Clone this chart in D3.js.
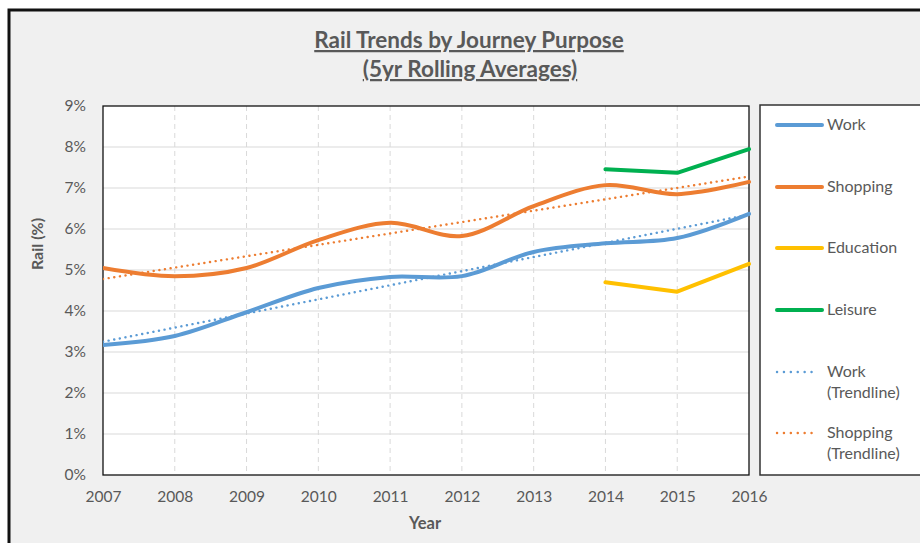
<!DOCTYPE html>
<html>
<head>
<meta charset="utf-8">
<script src="https://cdn.jsdelivr.net/npm/d3@7/dist/d3.min.js"></script>
<style>
  body { margin: 0; background: #fff; }
  svg { display: block; font-family: Lato, "Open Sans", sans-serif; }
</style>
</head>
<body>
<svg id="viz" width="920" height="543"></svg>
<script>
// data
const years = [2007, 2008, 2009, 2010, 2011, 2012, 2013, 2014, 2015, 2016];
const work = [3.17, 3.39, 3.97, 4.56, 4.83, 4.85, 5.44, 5.65, 5.78, 6.37];
const shopping = [5.05, 4.85, 5.05, 5.73, 6.15, 5.83, 6.56, 7.07, 6.85, 7.15];
const educationYears = [2014, 2015, 2016];
const education = [4.70, 4.47, 5.15];
const leisureYears = [2014, 2015, 2016];
const leisure = [7.46, 7.37, 7.95];
const trendYears = [2007, 2016];
const workTrend = [3.25, 6.35];
const shoppingTrend = [4.78, 7.28];
const yTicks = [0, 1, 2, 3, 4, 5, 6, 7, 8, 9];

const C = { work: "#5B9BD5", shopping: "#ED7D31", education: "#FFC000", leisure: "#00B050" };
const TXT = "#595959";

const PLOT = { left: 103, right: 749, top: 106, bottom: 475 };

const svg = d3.select("#viz");

// background + frame
svg.append("rect").attr("width", 920).attr("height", 543).attr("fill", "#fff");
svg.append("rect").attr("x", 9).attr("y", 10).attr("width", 930).attr("height", 560)
  .attr("fill", "#f0f0f0").attr("stroke", "#111").attr("stroke-width", 3);

const x = d3.scaleLinear().domain([2007, 2016]).range([PLOT.left, PLOT.right]);
const y = d3.scaleLinear().domain([0, 9]).range([PLOT.bottom, PLOT.top]);

// plot area
svg.append("rect")
  .attr("x", PLOT.left).attr("y", PLOT.top)
  .attr("width", PLOT.right - PLOT.left).attr("height", PLOT.bottom - PLOT.top)
  .attr("fill", "#fff");

// horizontal grid
svg.append("g")
  .selectAll("line").data(yTicks.slice(1, -1)).join("line")
  .attr("x1", PLOT.left).attr("x2", PLOT.right)
  .attr("y1", d => y(d)).attr("y2", d => y(d))
  .attr("stroke", "#d9d9d9").attr("stroke-width", 1);

// vertical dashed grid
svg.append("g")
  .selectAll("line").data(years.slice(1, -1)).join("line")
  .attr("x1", d => x(d)).attr("x2", d => x(d))
  .attr("y1", PLOT.top).attr("y2", PLOT.bottom)
  .attr("stroke", "#d9d9d9").attr("stroke-width", 1).attr("stroke-dasharray", "5,4");

svg.append("rect")
  .attr("x", PLOT.left).attr("y", PLOT.top)
  .attr("width", PLOT.right - PLOT.left).attr("height", PLOT.bottom - PLOT.top)
  .attr("fill", "none").attr("stroke", "#111").attr("stroke-width", 1.3);

// axes
const yAxis = svg.append("g")
  .attr("transform", `translate(${PLOT.left},0)`)
  .call(d3.axisLeft(y).tickValues(yTicks).tickFormat(d => d + "%").tickSize(0).tickPadding(17));
const xAxis = svg.append("g")
  .attr("transform", `translate(0,${PLOT.bottom})`)
  .call(d3.axisBottom(x).tickValues(years).tickFormat(d3.format("d")).tickSize(0).tickPadding(16));
[yAxis, xAxis].forEach(a => {
  a.select(".domain").remove();
  a.selectAll("text").attr("fill", TXT).attr("font-size", 15.5).attr("font-family", "Lato, sans-serif");
});

// lines
const smooth = d3.line().x(d => x(d[0])).y(d => y(d[1])).curve(d3.curveCatmullRom.alpha(0.5));
const straight = d3.line().x(d => x(d[0])).y(d => y(d[1]));
const zip = (xs, vs) => xs.map((v, i) => [v, vs[i]]);

const series = [
  { key: "workTrend", pts: zip(trendYears, workTrend), color: C.work, gen: straight, dotted: true },
  { key: "shoppingTrend", pts: zip(trendYears, shoppingTrend), color: C.shopping, gen: straight, dotted: true },
  { key: "work", pts: zip(years, work), color: C.work, gen: smooth },
  { key: "shopping", pts: zip(years, shopping), color: C.shopping, gen: smooth },
  { key: "education", pts: zip(educationYears, education), color: C.education, gen: straight },
  { key: "leisure", pts: zip(leisureYears, leisure), color: C.leisure, gen: straight }
];

svg.append("clipPath").attr("id", "plotclip").append("rect")
  .attr("x", PLOT.left).attr("y", PLOT.top - 5)
  .attr("width", PLOT.right - PLOT.left + 2).attr("height", PLOT.bottom - PLOT.top + 5);

svg.append("g").attr("clip-path", "url(#plotclip)")
  .selectAll("path").data(series).join("path")
  .attr("d", d => d.gen(d.pts))
  .attr("fill", "none")
  .attr("stroke", d => d.color)
  .attr("stroke-width", d => d.dotted ? 2.4 : 4)
  .attr("stroke-linecap", "round")
  .attr("stroke-linejoin", "round")
  .attr("stroke-dasharray", d => d.dotted ? "0.1,5.6" : null);

// title
const title = svg.append("g").attr("fill", TXT).attr("font-weight", "bold").attr("font-size", 22.5)
  .attr("text-anchor", "middle").attr("text-decoration", "underline");
title.append("text").attr("x", 469).attr("y", 48).text("Rail Trends by Journey Purpose");
title.append("text").attr("x", 470).attr("y", 77).text("(5yr Rolling Averages)");

// axis titles
svg.append("text").attr("transform", "translate(43,244) rotate(-90)")
  .attr("text-anchor", "middle").attr("fill", TXT).attr("font-weight", "bold").attr("font-size", 16)
  .text("Rail (%)");
svg.append("text").attr("x", 425).attr("y", 529)
  .attr("text-anchor", "middle").attr("fill", TXT).attr("font-weight", "bold").attr("font-size", 16.5)
  .text("Year");

// legend
svg.append("rect").attr("x", 760).attr("y", 105).attr("width", 200).attr("height", 370)
  .attr("fill", "#fff").attr("stroke", "#333").attr("stroke-width", 1.5);

const legendItems = [
  { label: ["Work"], color: C.work, y: 125 },
  { label: ["Shopping"], color: C.shopping, y: 187 },
  { label: ["Education"], color: C.education, y: 248 },
  { label: ["Leisure"], color: C.leisure, y: 310 },
  { label: ["Work", "(Trendline)"], color: C.work, y: 372, dotted: true },
  { label: ["Shopping", "(Trendline)"], color: C.shopping, y: 433, dotted: true }
];
const lg = svg.append("g").selectAll("g").data(legendItems).join("g");
lg.append("line")
  .attr("x1", 777).attr("x2", d => d.dotted ? 818 : 822)
  .attr("y1", d => d.y).attr("y2", d => d.y)
  .attr("stroke", d => d.color)
  .attr("stroke-width", d => d.dotted ? 2.4 : 4)
  .attr("stroke-linecap", "round")
  .attr("stroke-dasharray", d => d.dotted ? "0.1,6.8" : null);
lg.append("text")
  .attr("x", 827).attr("y", d => d.y + 5)
  .attr("fill", TXT).attr("font-size", 16)
  .selectAll("tspan").data(d => d.label).join("tspan")
  .attr("x", 827).attr("dy", (d, i) => i === 0 ? 0 : 21)
  .text(d => d);
</script>
</body>
</html>
